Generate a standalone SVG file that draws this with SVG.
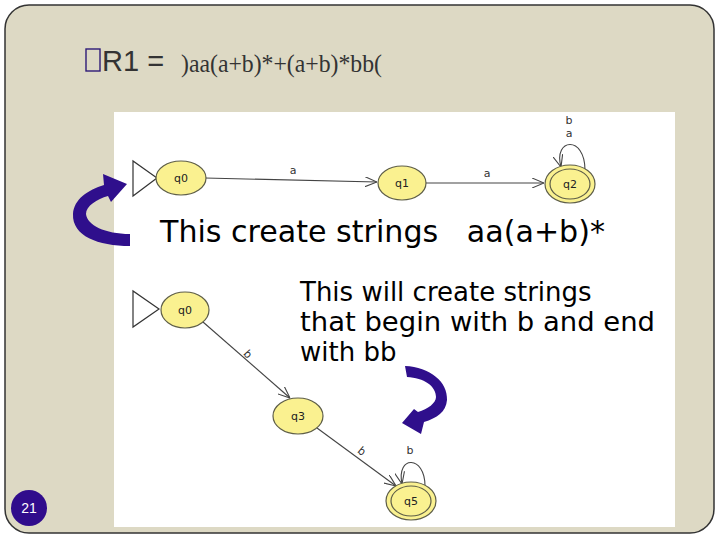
<svg xmlns="http://www.w3.org/2000/svg" width="720" height="540" viewBox="0 0 720 540">
<style>
.st{fill:#faf190;stroke:#5e5e48;stroke-width:1.2}
.lbl{font-family:"DejaVu Sans",sans-serif;font-size:11px;fill:#222;text-anchor:middle}
.el{font-family:"DejaVu Sans",sans-serif;font-size:11px;fill:#333;text-anchor:middle}
.ed{fill:none;stroke:#444;stroke-width:1.1}
.big{font-family:"DejaVu Sans",sans-serif;fill:#000}
.purple{fill:#2f0f8c}
</style>
<defs>
<marker id="arr" viewBox="0 0 12 10" refX="12" refY="5" markerWidth="12" markerHeight="10" markerUnits="userSpaceOnUse" orient="auto">
<path d="M0,0 L12,5 L0,10" fill="none" stroke="#444" stroke-width="1.1"/>
</marker>
</defs>
<rect x="5" y="5" width="709" height="528" rx="24" ry="24" fill="#ddd9c4" stroke="#333" stroke-width="1.5"/>
<rect x="114" y="112" width="561" height="415" fill="#fff"/>
<g id="title">
<rect x="86" y="49" width="14" height="22" fill="none" stroke="#2e1a78" stroke-width="1.4"/>
<text x="102" y="71" font-family="Liberation Sans, Arial, sans-serif" font-size="29" fill="#333" xml:space="preserve">R1 = </text>
<text x="181" y="72" font-family="Liberation Serif, Times New Roman, serif" font-size="25" fill="#333" textLength="201" lengthAdjust="spacingAndGlyphs">)aa(a+b)*+(a+b)*bb(</text>
</g>
<g id="connectors">
<path class="ed" d="M205,178 L377,182" marker-end="url(#arr)"/>
<path class="ed" d="M426,183 L544,183" marker-end="url(#arr)"/>
<path class="ed" d="M585,170 C585,135 553,138 561,167" marker-end="url(#arr)"/>
<path class="ed" d="M203,322 L290,398" marker-end="url(#arr)"/>
<path class="ed" d="M317,428 L396,486" marker-end="url(#arr)"/>
<path class="ed" d="M425,486 C425,455 396,455 402,484" marker-end="url(#arr)"/>
<text class="el" x="293" y="174">a</text>
<text class="el" x="487" y="177">a</text>
<text class="el" x="569" y="124">b</text>
<text class="el" x="569" y="137">a</text>
<text class="el" x="248" y="358" transform="rotate(48 248 354)">b</text>
<text class="el" x="362" y="455" transform="rotate(40 362 451)">b</text>
<text class="el" x="410" y="454">b</text>
</g>
<g id="start1"><polygon points="133,161 133,196 157,178" fill="#fff" stroke="#333" stroke-width="1.2"/></g>
<g id="q0a"><ellipse class="st" cx="181" cy="178" rx="25" ry="17"/><text class="lbl" x="181" y="182">q0</text></g>
<g id="q1"><ellipse class="st" cx="402" cy="183" rx="24" ry="17"/><text class="lbl" x="402" y="187">q1</text></g>
<g id="q2"><ellipse class="st" cx="570" cy="184" rx="25" ry="19"/><ellipse cx="570" cy="184" rx="20" ry="15" fill="none" stroke="#5e5e48" stroke-width="1.2"/><text class="lbl" x="570" y="188">q2</text></g>
<g id="start2"><polygon points="133,291 133,327 159,309" fill="#fff" stroke="#333" stroke-width="1.2"/></g>
<g id="q0b"><ellipse class="st" cx="185" cy="310" rx="24" ry="18"/><text class="lbl" x="185" y="314">q0</text></g>
<g id="q3"><ellipse class="st" cx="298" cy="416" rx="25" ry="18"/><text class="lbl" x="298" y="420">q3</text></g>
<g id="q5"><ellipse class="st" cx="411" cy="501" rx="25" ry="19"/><ellipse cx="411" cy="501" rx="20" ry="15" fill="none" stroke="#5e5e48" stroke-width="1.2"/><text class="lbl" x="411" y="505">q5</text></g>
<g id="text1"><text class="big" x="160" y="242" font-size="30" textLength="445" lengthAdjust="spacingAndGlyphs" xml:space="preserve">This create strings   aa(a+b)*</text></g>
<g id="text2"><text class="big" font-size="26"><tspan x="300" y="301">This will create strings</tspan><tspan x="300" y="331" textLength="355" lengthAdjust="spacingAndGlyphs">that begin with b and end</tspan><tspan x="300" y="361">with bb</tspan></text></g>
<g id="arrow1"><path class="purple" d="M130,246 C98,246 72,236 73,214 C74,199 88,190 104,185 L103,174 L127,184 L111,202 L108,196 C97,199 86,206 86,214 C87,225 105,234 130,234 Z"/></g>
<g id="arrow2"><path class="purple" d="M405,366 C430,367 448,382 447,400 C446,412 437,418 424,422 L421,434 L402,423 L414,409 L418,412 C428,409 436,403 436,397 C436,386 424,378 407,377 Z"/></g>
<g id="page"><circle cx="29" cy="508" r="18" fill="#300c8c"/><text x="29" y="513" font-family="Liberation Sans, Arial, sans-serif" font-size="14" fill="#fff" text-anchor="middle">21</text></g>
</svg>
